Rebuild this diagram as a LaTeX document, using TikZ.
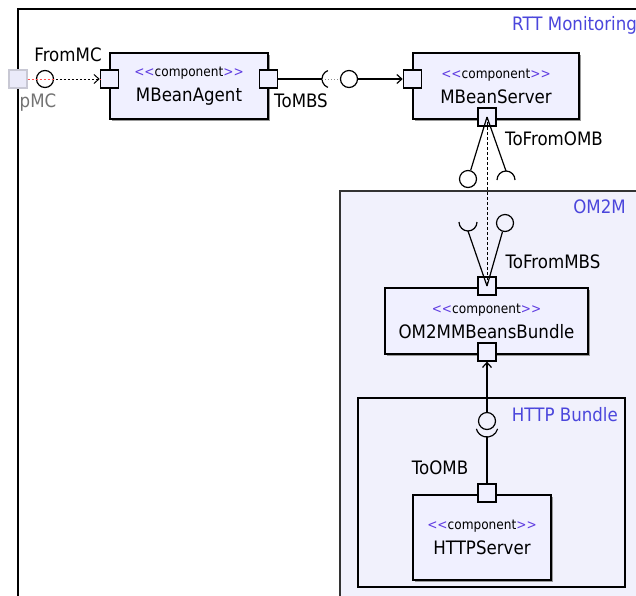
\documentclass[tikz,border=0pt]{standalone}
\usepackage{fontspec}
\setmainfont{DejaVu Sans}[FakeStretch=0.9]
\usepackage{tikz}
\usetikzlibrary{shapes,arrows.meta,positioning,calc,shadows}

\definecolor{compfill}{RGB}{240,240,255}
\definecolor{framefill}{RGB}{241,241,252}
\definecolor{stereo}{RGB}{95,60,225}
\definecolor{framelbl}{RGB}{75,70,220}
\definecolor{ghost}{RGB}{200,200,212}

\newcommand{\comptext}[1]{{\fontsize{13.5}{14}\selectfont\textcolor{stereo}{<{}<}component\textcolor{stereo}{>{}>}}\\#1}

\begin{document}
\begin{tikzpicture}[x=1pt, y=-1pt, >={Straight Barb[length=5pt,width=9pt]},
    comp/.style={draw, line width=1.4pt, fill=compfill, align=center, inner sep=0pt, font=\fontsize{18.5}{25}\selectfont, drop shadow={shadow xshift=2pt, shadow yshift=-2pt, fill=black!40, opacity=1}},
    port/.style={draw, line width=1.2pt, fill=compfill, minimum size=18pt, inner sep=0pt},
    ball/.style={draw, line width=1.2pt, circle, minimum size=17pt, inner sep=0pt},
    lbl/.style={font=\fontsize{18.5}{20}\selectfont, inner sep=0pt},
    conn/.style={line width=1.2pt}]
    \clip (0,0) rectangle (636,595);

    \draw[line width=1.6pt, fill=white] (18,9) rectangle (660,620);
    \node (rtt) [lbl, anchor=west, text=framelbl] at (512,25) {RTT Monitoring};
    \draw[line width=1.2pt, draw=black!80, fill=framefill] (340,191) rectangle (660,620);
    \node (om2m) [lbl, anchor=east, text=framelbl] at (626,207) {OM2M};
    \draw[line width=1.5pt, fill=framefill] (358,398) rectangle (625,587);
    \node (httpb) [lbl, anchor=east, text=framelbl] at (618,415) {HTTP Bundle};

    \node (agent) [comp, minimum width=158pt, minimum height=66pt] at (189,86) {\comptext{MBeanAgent}};
    \node (server) [comp, minimum width=166pt, minimum height=66pt] at (496,86) {\comptext{MBeanServer}};
    \node (bundle) [comp, minimum width=203pt, minimum height=66pt] at (486.5,321) {\comptext{OM2MMBeansBundle}};
    \node (http) [comp, minimum width=138pt, minimum height=85pt] at (482,537.5) {\comptext{HTTPServer}};

    \node (agentIn) [port] at (agent.west |- 0,79) {};
    \node (agentOut) [port] at (agent.east |- 0,79) {};
    \node (serverIn) [port] at (server.west |- 0,79) {};
    \node (serverDown) [port] at (487,117) {};
    \node (bundleUp) [port] at (487,286) {};
    \node (bundleDown) [port] at (487,352) {};
    \node (httpUp) [port] at (487,493) {};
    \node (pmc) [port, draw=ghost, fill=compfill!85!ghost] at (18,79) {};

    % external port
    \node (mcBall) [ball] at (45,79) {};
    \draw[red!70, line width=1pt, dash pattern=on 2pt off 2pt] (pmc.east) -- (agentIn.west);
    \draw[->, line width=1pt, dash pattern=on 2pt off 2pt, dash phase=2pt] (mcBall.east) -- (agentIn.west);
    \node (fromMC) [lbl] at (68,55) {FromMC};
    \node (pmcLbl) [lbl, text=black!55] at (38,103) {pMC};

    % ToMBS
    \coordinate (mbsSock) at (331,79);
    \coordinate (mbsSockL) at (322,79);
    \node (mbsBall) [ball] at (349,79) {};
    \draw[conn] (agentOut.east) -- (mbsSockL);
    \draw[conn] (mbsSock) ++(250:9) arc[start angle=250, end angle=110, radius=9];
    \draw[black!45, dotted, line width=1pt] (mbsSockL) -- (mbsBall.west);
    \draw[conn, ->] (mbsBall.east) -- (serverIn.west);
    \node (toMBS) [lbl] at (301,101) {ToMBS};

    % ToFromOMB / ToFromMBS
    \node (ombBall) [ball] at (468,179) {};
    \coordinate (ombSock) at (506,180);
    \coordinate (ombSockTop) at (506,171);
    \draw[conn] (ombSock) ++(180:9) arc[start angle=180, end angle=360, radius=9];
    \draw[conn] (serverDown.center) -- (ombBall);
    \draw[conn] (serverDown.center) -- (ombSockTop);
    \draw[densely dashed, line width=0.7pt] (serverDown.center) -- (bundleUp.center);
    \node (toFromOMB) [lbl] at (554,139) {ToFromOMB};

    \node (mbsBall2) [ball] at (505,223) {};
    \coordinate (mbsSock2) at (468,222);
    \coordinate (mbsSock2Bot) at (468,231);
    \draw[conn] (mbsSock2) ++(0:9) arc[start angle=0, end angle=180, radius=9];
    \draw[conn] (mbsSock2Bot) -- (bundleUp.center);
    \draw[conn] (mbsBall2) -- (bundleUp.center);
    \node (toFromMBS) [lbl] at (553,262) {ToFromMBS};

    % ToOMB
    \node (httpBall) [ball] at (487,421) {};
    \coordinate (httpSock) at (487,426);
    \coordinate (httpSockBot) at (487,437);
    \draw[conn] (httpSock) ++(15:11) arc[start angle=15, end angle=165, radius=11];
    \draw[conn, ->] (httpBall.north) -- (bundleDown.south);
    \draw[conn] (httpSockBot) -- (httpUp.north);
    \node (toOMB) [lbl] at (440,468) {ToOMB};
\end{tikzpicture}
\end{document}
